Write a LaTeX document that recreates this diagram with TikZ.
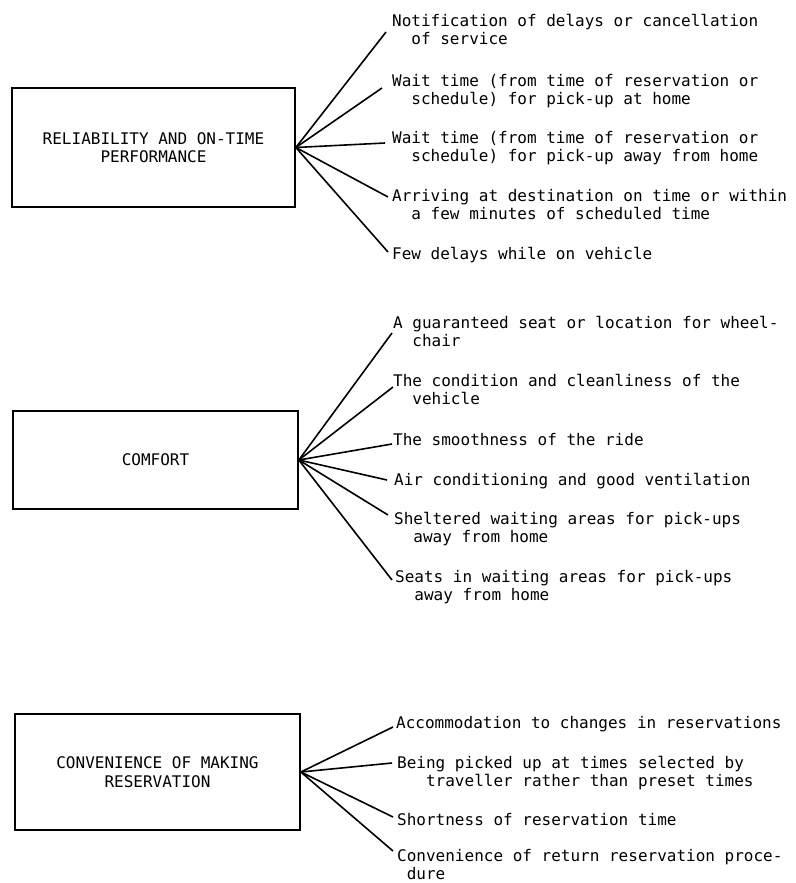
\documentclass[tikz,border=0pt]{standalone}
\usepackage{fontspec}
\newfontfamily\typefont{DejaVu Sans Mono}
\usetikzlibrary{positioning}

\begin{document}
\begin{tikzpicture}[
    x=1pt, y=-1pt,
    factor/.style={rectangle, draw=black, line width=1.7pt, align=center, font=\typefont\fontsize{16}{18.5}\selectfont},
    item/.style={anchor=north west, align=left, inner sep=0pt, font=\typefont\fontsize{16}{18}\selectfont},
    spoke/.style={line width=1.6pt}
]
    \useasboundingbox (0,0) rectangle (795,883);

    % Factor boxes
    \node[factor, minimum width=283pt, minimum height=119pt] (rel) at (153.5,147.5) {RELIABILITY AND ON-TIME\\PERFORMANCE};
    \node[factor, minimum width=285pt, minimum height=98pt] (com) at (155.5,460) {COMFORT};
    \node[factor, minimum width=285pt, minimum height=116pt] (res) at (157.5,772) {CONVENIENCE OF MAKING\\RESERVATION};

    % Spoke ends
    \foreach \n/\ex/\ey in {1/386/32, 2/382/88, 3/385/143, 4/388/197, 5/388/252} {
        \coordinate (r\n) at (\ex,\ey);
        \draw[spoke] (rel.east) -- (r\n);
    }
    \foreach \n/\ex/\ey in {1/392/333, 2/393/387, 3/392/444, 4/387/480, 5/388/515, 6/392/580} {
        \coordinate (c\n) at (\ex,\ey);
        \draw[spoke] (com.east) -- (c\n);
    }
    \foreach \n/\ex/\ey in {1/393/727, 2/392/763, 3/393/817, 4/393/851} {
        \coordinate (v\n) at (\ex,\ey);
        \draw[spoke] (res.east) -- (v\n);
    }

    % Reliability items
    \node[item] (ri1) at (392,14) {Notification of delays or cancellation\\\phantom{xx}of service};
    \node[item] (ri2) at (392,74) {Wait time (from time of reservation or\\\phantom{xx}schedule) for pick-up at home};
    \node[item] (ri3) at (392,131) {Wait time (from time of reservation or\\\phantom{xx}schedule) for pick-up away from home};
    \node[item] (ri4) at (392,189) {Arriving at destination on time or within\\\phantom{xx}a few minutes of scheduled time};
    \node[item] (ri5) at (392,247) {Few delays while on vehicle};

    % Comfort items
    \node[item] (ci1) at (393,316) {A guaranteed seat or location for wheel-\\\phantom{xx}chair};
    \node[item] (ci2) at (393,374) {The condition and cleanliness of the\\\phantom{xx}vehicle};
    \node[item] (ci3) at (393,433) {The smoothness of the ride};
    \node[item] (ci4) at (394,473) {Air conditioning and good ventilation};
    \node[item] (ci5) at (394,512) {Sheltered waiting areas for pick-ups\\\phantom{xx}away from home};
    \node[item] (ci6) at (395,570) {Seats in waiting areas for pick-ups\\\phantom{xx}away from home};

    % Reservation items
    \node[item] (vi1) at (396,716) {Accommodation to changes in reservations};
    \node[item] (vi2) at (397,756) {Being picked up at times selected by\\\phantom{xxx}traveller rather than preset times};
    \node[item] (vi3) at (397,813) {Shortness of reservation time};
    \node[item] (vi4) at (397,849) {Convenience of return reservation proce-\\\phantom{x}dure};

\end{tikzpicture}
\end{document}
